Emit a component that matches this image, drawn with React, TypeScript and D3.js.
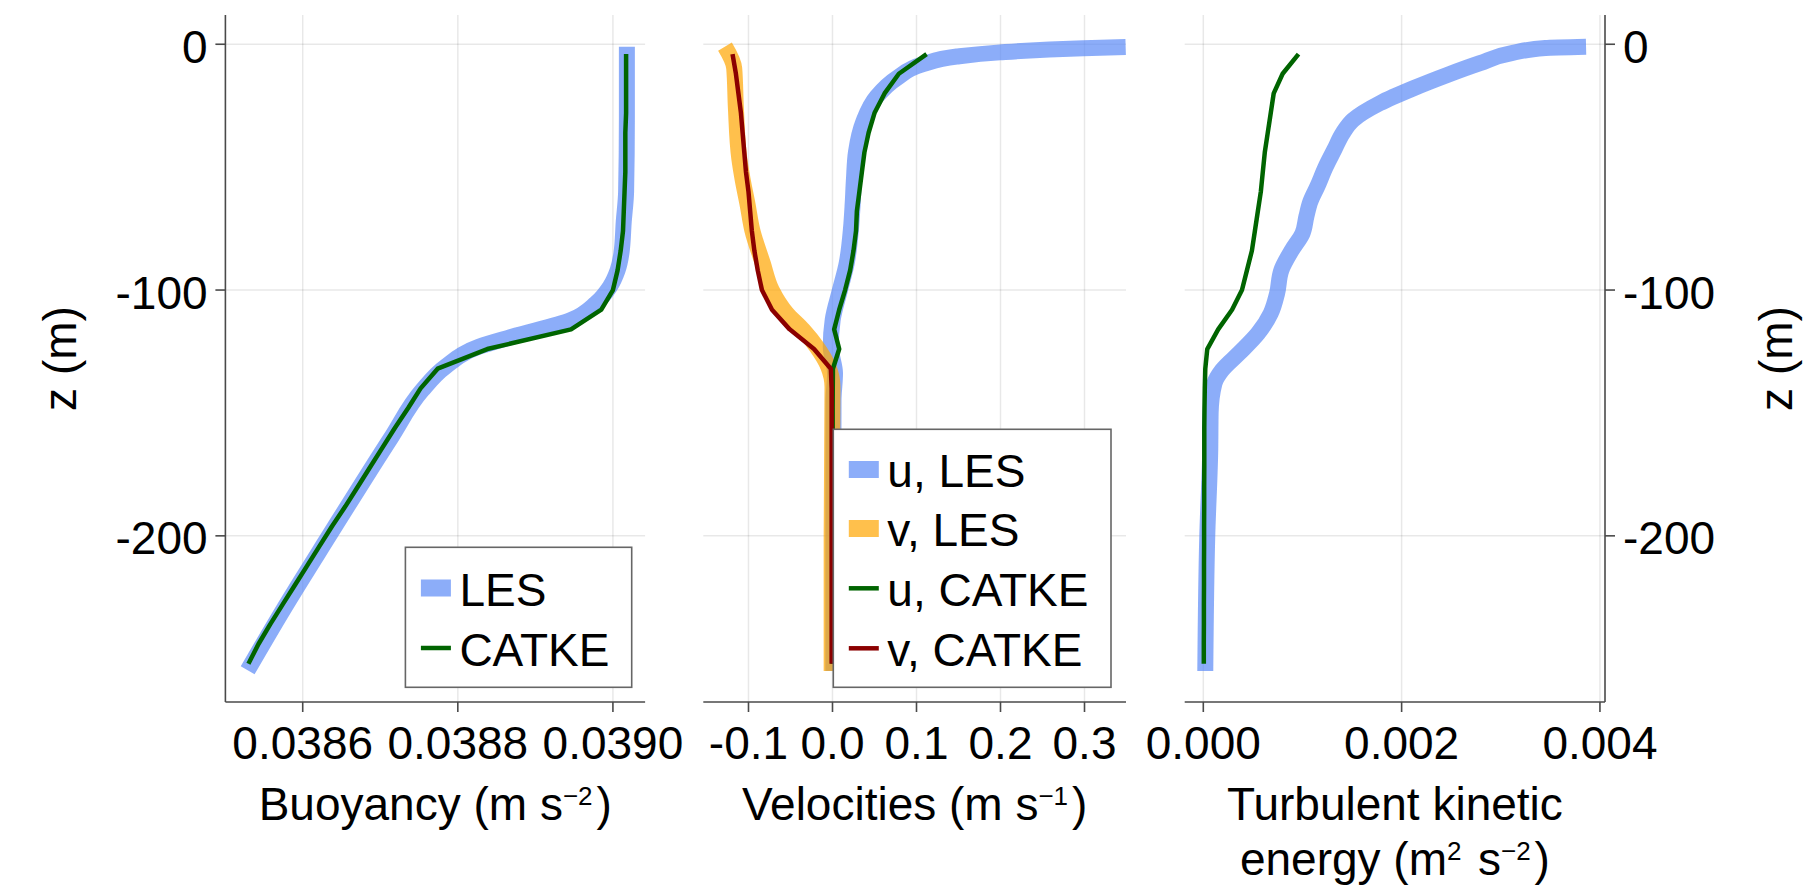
import React from 'react';
import * as d3 from 'd3';

// ---------------- DATA ----------------
// CATKE grid depths (m)
const catkeZ = [-4, -12, -20, -28, -36, -44, -52, -60, -68, -76, -84, -92, -100, -108, -116, -124,
  -132, -140, -148, -156, -164, -172, -180, -188, -196, -204, -212, -220, -228, -236, -244, -252];
// Buoyancy (m s^-2)
const bCatke = [0.039017, 0.039017, 0.039017, 0.039017, 0.039016, 0.039016, 0.039016, 0.039015,
  0.039014, 0.039013, 0.039010, 0.039006, 0.039000, 0.038985, 0.038946, 0.038838,
  0.038774, 0.038752, 0.038736, 0.038719, 0.038703, 0.038687, 0.038671, 0.038655,
  0.038638, 0.038622, 0.038606, 0.038590, 0.038574, 0.038558, 0.038543, 0.038530];
const bLesZ = [-1, -30, -60, -72, -85, -92, -98.7, -105.4, -112.2, -119, -123.1, -131.2, -140.8, -160, -200, -230, -254.7];
const bLes = [0.039018, 0.039018, 0.039017, 0.039014, 0.039011, 0.039006, 0.038996, 0.038978, 0.038946,
  0.03887, 0.038827, 0.038784, 0.038754, 0.038714, 0.038634, 0.038575, 0.038529];
// Velocities (m s^-1)
const uCatke = [0.112, 0.079, 0.062, 0.050, 0.043, 0.038, 0.035, 0.032, 0.029, 0.028, 0.025, 0.021,
  0.015, 0.008, 0.002, 0.008, 0.0005, 0.0003, 0.0002, 0.0002, 0.0002, 0.0002, 0.0002, 0.0002,
  0.0001, 0.0001, 0.0001, 0.0001, 0.0001, 0.0001, 0.0001, 0.0001];
const vCatke = [-0.119, -0.115, -0.112, -0.109, -0.107, -0.105, -0.103, -0.100, -0.098, -0.096, -0.093,
  -0.089, -0.084, -0.072, -0.051, -0.022, -0.002, -0.001, -0.001, -0.001, -0.001, -0.001, -0.001,
  -0.001, -0.001, -0.001, -0.001, -0.001, -0.001, -0.001, -0.001, -0.001];
const uLesZ = [-1.1, -1.6, -3.3, -5.0, -8.1, -13.8, -21.3, -31.5, -43.7, -55, -65, -75, -89.1,
  -100, -112.2, -123.1, -133.9, -145, -200, -255];
const uLes = [0.349, 0.2986, 0.1994, 0.148, 0.108, 0.0764, 0.0526, 0.0367, 0.028, 0.0255, 0.024,
  0.022, 0.0169, 0.0089, 0.0002, -0.0021, 0.003, 0.0012, 0.001, 0.001];
const vLesZ = [-1.0, -9.8, -26, -46.4, -55, -65.4, -75.6, -89.1, -100, -109.5, -116.3, -123.1, -131.2,
  -139.4, -200, -255];
const vLes = [-0.128, -0.117, -0.115, -0.111, -0.107, -0.101, -0.0955, -0.083, -0.0724, -0.0545,
  -0.0348, -0.0188, -0.005, 0.0, -0.001, -0.001];
// Turbulent kinetic energy (m^2 s^-2)
const eCatke = [0.00096, 0.00080, 0.00071, 0.00068, 0.00065, 0.00062, 0.00060, 0.00058, 0.00055,
  0.00052, 0.00049, 0.00044, 0.00039, 0.00029, 0.00015, 0.00004, 0.00002, 0.000015, 0.000012,
  0.00001, 0.00001, 0.00001, 0.000009, 0.000009, 0.000008, 0.000008, 0.000007, 0.000007,
  0.000006, 0.000006, 0.000005, 0.000005];
const eLesZ = [-1.0, -1.5, -3.5, -7.7, -12.5, -17.9, -24.0, -30.8, -36.2, -43, -49.8, -57.9, -64,
  -70, -77, -83.7, -91.9, -101.4, -109.5, -117.6, -125.8, -132.6, -138, -150, -165, -200, -255];
const eLes = [0.00386, 0.00345, 0.00312, 0.00279, 0.00246, 0.00212, 0.00178, 0.00151, 0.001406,
  0.00132, 0.001235, 0.00115, 0.00108, 0.00104, 0.00100, 0.000894, 0.000787, 0.000744, 0.00068,
  0.000552, 0.000359, 0.000189, 0.000112, 0.000074, 0.00007, 0.00004, 0.00002];

// Ticks
const zTicks = [0, -100, -200];
const zTickLabels = ['0', '-100', '-200'];
const bTicks = [0.0386, 0.0388, 0.0390];
const bTickLabels = ['0.0386', '0.0388', '0.0390'];
const vTicks = [-0.1, 0.0, 0.1, 0.2, 0.3];
const vTickLabels = ['-0.1', '0.0', '0.1', '0.2', '0.3'];
const eTicks = [0, 0.002, 0.004];
const eTickLabels = ['0.000', '0.002', '0.004'];

// Legends
const legend1 = ['LES', 'CATKE'];
const legend2 = ['u, LES', 'v, LES', 'u, CATKE', 'v, CATKE'];

// ---------------- STYLE ----------------
const FONT = '"Liberation Sans", Arial, Helvetica, sans-serif';
const FS = 46;
const LES_BLUE = '#5b8af7';
const LES_ORANGE = '#ffa500';
const LES_OP = 0.7;
const GREEN = '#006400';
const RED = '#8b0000';
const LES_W = 16;
const CAT_W = 4.5;
const SPINE = '#4a4a4a';
const GRID = 'rgba(0,0,0,0.09)';

const TOP = 15, BOT = 702;

const y = d3.scaleLinear().domain([-267.6, 11.9]).range([BOT, TOP]);
const xB = d3.scaleLinear().domain([0.0385003, 0.0390415]).range([225.4, 645.1]);
const xV = d3.scaleLinear().domain([-0.1538, 0.3494]).range([703.3, 1126]);
const xE = d3.scaleLinear().domain([-0.0001876, 0.004051]).range([1184.7, 1605]);

type P = [number, number];
const pairs = (z: number[], v: number[]): P[] => z.map((zz, i) => [zz, v[i]] as P);
const mk = (xs: d3.ScaleLinear<number, number>, smooth: boolean) =>
  d3.line<P>().x(d => xs(d[1])).y(d => y(d[0])).curve(smooth ? d3.curveMonotoneY : d3.curveLinear);

const Sup = ({ t }: { t: string }) => (
  <>
    <tspan dy={-15} fontSize={26}>{t}</tspan>
    <tspan dy={15} fontSize={FS}>{'\u200A'}</tspan>
  </>
);

function Grid({ xs, ticks }: { xs: d3.ScaleLinear<number, number>; ticks: number[] }) {
  const [x0, x1] = xs.range();
  return (
    <g>
      {ticks.map((t, i) => (
        <line key={'gx' + i} x1={xs(t)} x2={xs(t)} y1={TOP} y2={BOT} stroke={GRID} strokeWidth={1.5} />
      ))}
      {zTicks.map((t, i) => (
        <line key={'gy' + i} x1={x0} x2={x1} y1={y(t)} y2={y(t)} stroke={GRID} strokeWidth={1.5} />
      ))}
    </g>
  );
}

function XAxis({ xs, ticks, labels }: { xs: d3.ScaleLinear<number, number>; ticks: number[]; labels: string[] }) {
  const [x0, x1] = xs.range();
  return (
    <g>
      <line x1={x0} x2={x1} y1={BOT} y2={BOT} stroke={SPINE} strokeWidth={1.6} />
      {ticks.map((t, i) => (
        <g key={i}>
          <line x1={xs(t)} x2={xs(t)} y1={BOT} y2={BOT + 10} stroke={SPINE} strokeWidth={1.6} />
          <text x={xs(t)} y={759} textAnchor="middle" fontSize={FS} fontFamily={FONT} fill="#000">{labels[i]}</text>
        </g>
      ))}
    </g>
  );
}

function LesLine({ d, color, xs }: { d: P[]; color: string; xs: d3.ScaleLinear<number, number> }) {
  return <path d={mk(xs, true)(d) || ''} fill="none" stroke={color} strokeOpacity={LES_OP} strokeWidth={LES_W} strokeLinecap="butt" strokeLinejoin="round" />;
}
function CatLine({ d, color, xs }: { d: P[]; color: string; xs: d3.ScaleLinear<number, number> }) {
  return <path d={mk(xs, false)(d) || ''} fill="none" stroke={color} strokeWidth={CAT_W} strokeLinecap="butt" strokeLinejoin="round" />;
}

export default function App() {
  const clipRect = (id: string, xs: d3.ScaleLinear<number, number>) => {
    const [a, b] = xs.range();
    return (
      <clipPath id={id}>
        <rect x={a} y={TOP} width={b - a} height={BOT - TOP} />
      </clipPath>
    );
  };

  const legendRow = (x0: number, yc: number, label: string, kind: 'patch' | 'line', color: string, key: string) => (
    <g key={key}>
      {kind === 'patch' ? (
        <rect x={x0 + 15.5} y={yc - 8.5} width={30} height={17} fill={color} fillOpacity={LES_OP} />
      ) : (
        <line x1={x0 + 15.5} x2={x0 + 45.5} y1={yc} y2={yc} stroke={color} strokeWidth={CAT_W} />
      )}
      <text x={x0 + 54} y={yc + 17.5} fontSize={FS} fontFamily={FONT} fill="#000">{label}</text>
    </g>
  );

  return (
    <svg width={1814} height={889} viewBox="0 0 1814 889" style={{ position: 'absolute', left: 0, top: 0, background: '#fff' }}>
      <defs>
        {clipRect('c1', xB)}
        {clipRect('c2', xV)}
        {clipRect('c3', xE)}
      </defs>
      <rect x={0} y={0} width={1814} height={889} fill="#fff" />

      {/* Panel 1: buoyancy */}
      <Grid xs={xB} ticks={bTicks} />
      <g clipPath="url(#c1)">
        <LesLine d={pairs(bLesZ, bLes)} color={LES_BLUE} xs={xB} />
        <CatLine d={pairs(catkeZ, bCatke)} color={GREEN} xs={xB} />
      </g>
      <XAxis xs={xB} ticks={bTicks} labels={bTickLabels} />
      <line x1={225.4} x2={225.4} y1={TOP} y2={BOT} stroke={SPINE} strokeWidth={1.6} />
      {zTicks.map((t, i) => (
        <g key={'yl' + i}>
          <line x1={215.4} x2={225.4} y1={y(t)} y2={y(t)} stroke={SPINE} strokeWidth={1.6} />
          <text x={207.6} y={y(t) + 18.5} textAnchor="end" fontSize={FS} fontFamily={FONT}>{zTickLabels[i]}</text>
        </g>
      ))}
      <text transform={`translate(76,${(TOP + BOT) / 2}) rotate(-90)`} textAnchor="middle" fontSize={FS} fontFamily={FONT}>z (m)</text>
      <text x={435.2} y={820} textAnchor="middle" fontSize={FS} fontFamily={FONT}>
        Buoyancy (m s<Sup t={'\u22122'} />)
      </text>
      <g>
        <rect x={405.4} y={547.3} width={226.3} height={140} fill="#fff" stroke="#666" strokeWidth={1.6} />
        {legendRow(405.4, 588, legend1[0], 'patch', LES_BLUE, 'l1a')}
        {legendRow(405.4, 648, legend1[1], 'line', GREEN, 'l1b')}
      </g>

      {/* Panel 2: velocities */}
      <Grid xs={xV} ticks={vTicks} />
      <g clipPath="url(#c2)">
        <LesLine d={pairs(uLesZ, uLes)} color={LES_BLUE} xs={xV} />
        <LesLine d={pairs(vLesZ, vLes)} color={LES_ORANGE} xs={xV} />
        <CatLine d={pairs(catkeZ, uCatke)} color={GREEN} xs={xV} />
        <CatLine d={pairs(catkeZ, vCatke)} color={RED} xs={xV} />
      </g>
      <XAxis xs={xV} ticks={vTicks} labels={vTickLabels} />
      <text x={914.6} y={820} textAnchor="middle" fontSize={FS} fontFamily={FONT}>
        Velocities (m s<Sup t={'\u22121'} />)
      </text>
      <g>
        <rect x={833.3} y={429.3} width={277.7} height={258} fill="#fff" stroke="#666" strokeWidth={1.6} />
        {legendRow(833.3, 469.5, legend2[0], 'patch', LES_BLUE, 'l2a')}
        {legendRow(833.3, 528.5, legend2[1], 'patch', LES_ORANGE, 'l2b')}
        {legendRow(833.3, 588.3, legend2[2], 'line', GREEN, 'l2c')}
        {legendRow(833.3, 648.3, legend2[3], 'line', RED, 'l2d')}
      </g>

      {/* Panel 3: TKE */}
      <Grid xs={xE} ticks={eTicks} />
      <g clipPath="url(#c3)">
        <LesLine d={pairs(eLesZ, eLes)} color={LES_BLUE} xs={xE} />
        <CatLine d={pairs(catkeZ, eCatke)} color={GREEN} xs={xE} />
      </g>
      <XAxis xs={xE} ticks={eTicks} labels={eTickLabels} />
      <line x1={1605} x2={1605} y1={TOP} y2={BOT} stroke={SPINE} strokeWidth={1.6} />
      {zTicks.map((t, i) => (
        <g key={'yr' + i}>
          <line x1={1605} x2={1615} y1={y(t)} y2={y(t)} stroke={SPINE} strokeWidth={1.6} />
          <text x={1623} y={y(t) + 18.5} textAnchor="start" fontSize={FS} fontFamily={FONT}>{zTickLabels[i]}</text>
        </g>
      ))}
      <text transform={`translate(1791.6,${(TOP + BOT) / 2}) rotate(-90)`} textAnchor="middle" fontSize={FS} fontFamily={FONT}>z (m)</text>
      <text x={1394.9} y={820} textAnchor="middle" fontSize={FS} fontFamily={FONT}>Turbulent kinetic</text>
      <text x={1394.9} y={875} textAnchor="middle" fontSize={FS} fontFamily={FONT}>
        energy (m<Sup t="2" /> s<Sup t={'\u22122'} />)
      </text>
    </svg>
  );
}
